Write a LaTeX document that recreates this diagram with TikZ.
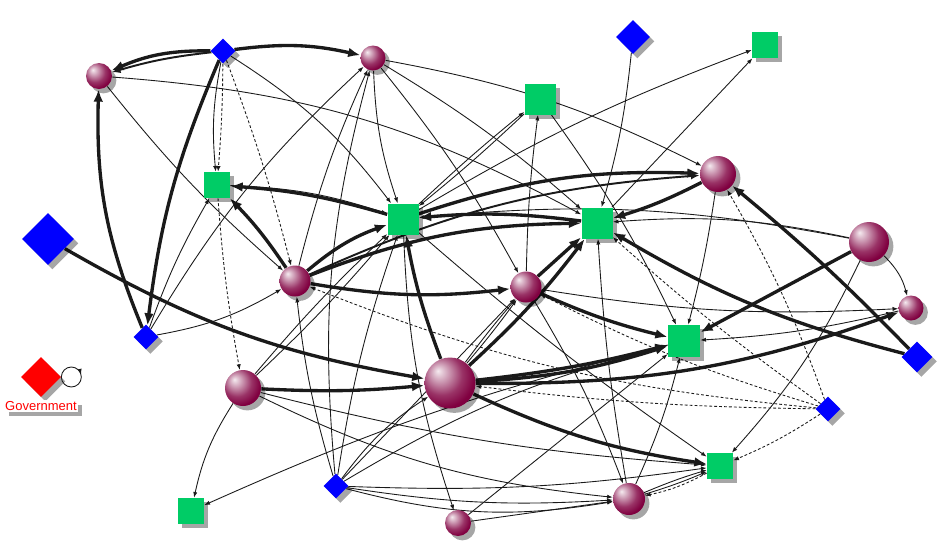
\documentclass[tikz,border=0pt]{standalone}
\usepackage{fontspec}
\setsansfont{Liberation Sans}
\usetikzlibrary{arrows.meta,shapes.geometric,shadows,positioning,backgrounds,decorations.markings}
\definecolor{sphcol}{HTML}{800040}
\definecolor{sqcol}{HTML}{00CC66}
\definecolor{edgecol}{HTML}{1A1A1A}
\pgfdeclareradialshading{sphball}{\pgfpoint{-12bp}{12bp}}{color(0bp)=(white!92!sphcol);
  color(9bp)=(sphcol!40!white); color(20bp)=(sphcol!80!white); color(30bp)=(sphcol);
  color(62bp)=(sphcol!85!black)}

\begin{document}
\begin{tikzpicture}[x=0.02cm,y=-0.02cm,line cap=round,
  shd/.style={drop shadow={shadow xshift=2.5pt,shadow yshift=-2.5pt,opacity=0.35,fill=black}},
  sph/.style={circle,shade,shading=sphball,inner sep=0pt,minimum size=#1*0.02cm,shd},
  sq/.style={rectangle,fill=sqcol,inner sep=0pt,minimum size=#1*0.02cm,shd},
  dmd/.style={diamond,aspect=1,fill=blue,inner sep=0pt,minimum size=#1*0.02cm,shd},
  thk/.style={draw=edgecol,line width=1.9pt,-{Latex[length=7pt,width=5.5pt]}},
  med/.style={draw=edgecol,line width=1.1pt,-{Latex[length=5pt,width=4pt]}},
  thn/.style={draw=edgecol,line width=0.5pt,-{Latex[length=3.2pt,width=2.4pt]}},
  dsh/.style={thn,dash pattern=on 1.6pt off 1.2pt},
  selfloop/.style={draw=edgecol,line width=0.5pt,postaction={decorate},
    decoration={markings,mark=at position 0.46 with {\arrow{Latex[length=3.2pt,width=2.4pt]}}}}]
\useasboundingbox (0,0) rectangle (950,552);

\node[sph=26] (p1) at (99,76) {};
\node[sph=25] (p2) at (373,58) {};
\node[sph=36] (p3) at (718,174) {};
\node[sph=40] (p4) at (869,242) {};
\node[sph=31] (p5) at (295,281) {};
\node[sph=31] (p6) at (526,287) {};
\node[sph=25] (p7) at (911,308) {};
\node[sph=36] (p8) at (243,388) {};
\node[sph=51] (p9) at (450,383) {};
\node[sph=32] (p10) at (629,499) {};
\node[sph=26] (p11) at (458,523) {};

\node[sq=31] (g1) at (540,99) {};
\node[sq=26] (g2) at (765,45) {};
\node[sq=26] (g3) at (217,185) {};
\node[sq=31] (g4) at (403,219) {};
\node[sq=31] (g5) at (597,223) {};
\node[sq=32] (g6) at (684,341) {};
\node[sq=26] (g7) at (720,466) {};
\node[sq=26] (g8) at (191,511) {};

\node[dmd=25] (b1) at (223,51) {};
\node[dmd=34] (b2) at (633,37) {};
\node[dmd=52] (b3) at (48,239) {};
\node[dmd=25] (b4) at (146,337) {};
\node[dmd=31] (b5) at (917,357) {};
\node[dmd=25] (b6) at (828,409) {};
\node[dmd=25] (b7) at (336,486) {};

\node[dmd=40,fill=red] (gov) at (41,377) {};
\node[below=1.5pt of gov,text=red,fill=white,inner sep=0.6pt,shd,
  font=\sffamily\fontsize{7.4}{8}\selectfont] (govlbl) {Government};
\draw[selfloop] (gov.east) arc[start angle=180,delta angle=-360,radius=0.2cm];

\begin{scope}[on background layer]
\draw[thk] (b1) to[bend right=12] (p1);
\draw[med] (b1) to[bend right=5] (p1);
\draw[thk] (b1) to[bend left=10] (p2);
\draw[thk] (b1) to[bend right=8] (b4);
\draw[thk] (b4) to[bend left=12] (p1);
\draw[thk] (b3) to[bend right=10] (p9);
\draw[thk] (p5) to[bend right=5] (g3);
\draw[thk] (g4) to[bend right=6] (g3);
\draw[thk] (p5) to[bend left=10] (g4);
\draw[thk] (p5) to[bend left=10] (g5);
\draw[thk] (p5) to[bend right=8] (p6);
\draw[med] (p5) to[bend left=10] (p3);
\draw[thk] (g4) to[bend left=10] (p3);
\draw[thk] (p3) to[bend left=5] (g5);
\draw[thk] (g5) to[bend right=6] (g4);
\draw[thk] (p9) to[bend left=5] (g4);
\draw[thk] (p9) to[bend right=5] (g5);
\draw[thk] (p6) to (g5);
\draw[thk] (p9) to[bend right=4] (g6);
\draw[thk] (p9) to[bend right=7] (g6);
\draw[thk] (p6) to[bend right=5] (g6);
\draw[thk] (p9) to[bend right=10] (p7);
\draw[thk] (p9) to[bend right=8] (g7);
\draw[thk] (p8) to[bend right=4] (p9);
\draw[thk] (p4) -- (g6);
\draw[thk] (b5) to[bend right=3] (p3);
\draw[thk] (b5) to[bend left=8] (g5);

\draw[thn] (g3) to[bend left=8] (g4);
\draw[thn] (p1) to[bend right=5] (p5);
\draw[thn] (p1) to[bend left=12] (g5);
\draw[thn] (b1) to[bend right=8] (g3);
\draw[dsh] (b1) to[bend left=2] (g3);
\draw[dsh] (b1) to[bend left=3] (p5);
\draw[thn] (b1) to[bend left=10] (g4);
\draw[thn] (p2) to[bend right=8] (g4);
\draw[thn] (p2) to[bend left=5] (g5);
\draw[thn] (p2) to[bend left=8] (p3);
\draw[thn] (p2) to[bend left=5] (p6);
\draw[thn] (p5) to[bend left=5] (p2);
\draw[thn] (b4) to[bend left=8] (p2);
\draw[thn] (b7) to[bend left=10] (p2);
\draw[thn] (b4) to[bend left=5] (g3);
\draw[thn] (b4) to[bend right=10] (p5);
\draw[dsh] (g3) to[bend right=3] (p8);
\draw[thn] (p8) to[bend right=10] (g8);
\draw[thn] (g6) to[bend right=5] (g8);
\draw[thn] (p8) to[bend right=3] (g4);
\draw[thn] (p8) to[bend left=3] (g4);
\draw[thn] (p8) to[bend right=5] (g7);
\draw[thn] (p8) to[bend right=10] (p10);
\draw[thn] (b7) to[bend left=5] (p5);
\draw[thn] (b7) to[bend left=5] (g4);
\draw[thn] (b7) to[bend left=10] (p9);
\draw[thn] (b7) to (p6);
\draw[thn] (p9) to[bend left=2] (p6);
\draw[thn] (p9) to[bend right=2] (p6);
\draw[thn] (b7) to[bend left=8] (g6);
\draw[thn] (b7) to[bend right=6] (p10);
\draw[thn] (b7) to[bend right=12] (p10);
\draw[thn] (b7) to[bend right=5] (g7);
\draw[thn] (p11) to (p10);
\draw[thn] (p11) -- (g6);
\draw[thn] (g4) to[bend right=8] (p11);
\draw[thn] (p6) to[bend left=5] (p10);
\draw[thn] (g4) to[bend right=3] (g7);
\draw[thn] (p3) to[bend left=3] (g6);
\draw[thn] (p4) to[bend left=15] (p7);
\draw[thn] (p4) to[bend left=8] (g7);
\draw[thn] (p4) to[bend right=8] (g5);
\draw[thn] (p4) to[bend right=8] (g4);
\draw[thn] (p7) to[bend left=5] (g6);
\draw[thn] (p6) to[bend right=6] (p7);
\draw[thn] (g5) -- (g2);
\draw[thn] (g4) to[bend left=5] (g2);
\draw[thn] (b2) to[bend left=5] (g5);
\draw[thn] (g4) to[bend left=2] (g1);
\draw[thn] (g1) to[bend left=2] (g4);
\draw[thn] (g1) to[bend left=5] (g6);
\draw[thn] (p6) to[bend left=3] (g1);
\draw[thn] (p10) to[bend left=3] (g5);
\draw[thn] (p10) to[bend right=5] (g6);
\draw[thn] (p10) to[bend left=3] (g7);
\draw[thn] (p10) to[bend right=3] (g7);
\draw[dsh] (g7) to[bend left=8] (p10);
\draw[dsh] (b6) to[bend right=5] (p3);
\draw[dsh] (b6) to[bend left=3] (g5);
\draw[dsh] (b6) to[bend left=8] (p5);
\draw[dsh] (b6) to[bend left=3] (p9);
\draw[dsh] (b6) to[bend left=5] (g7);
\draw[dsh] (b6) to[bend left=5] (p6);
\end{scope}
\end{tikzpicture}
\end{document}
